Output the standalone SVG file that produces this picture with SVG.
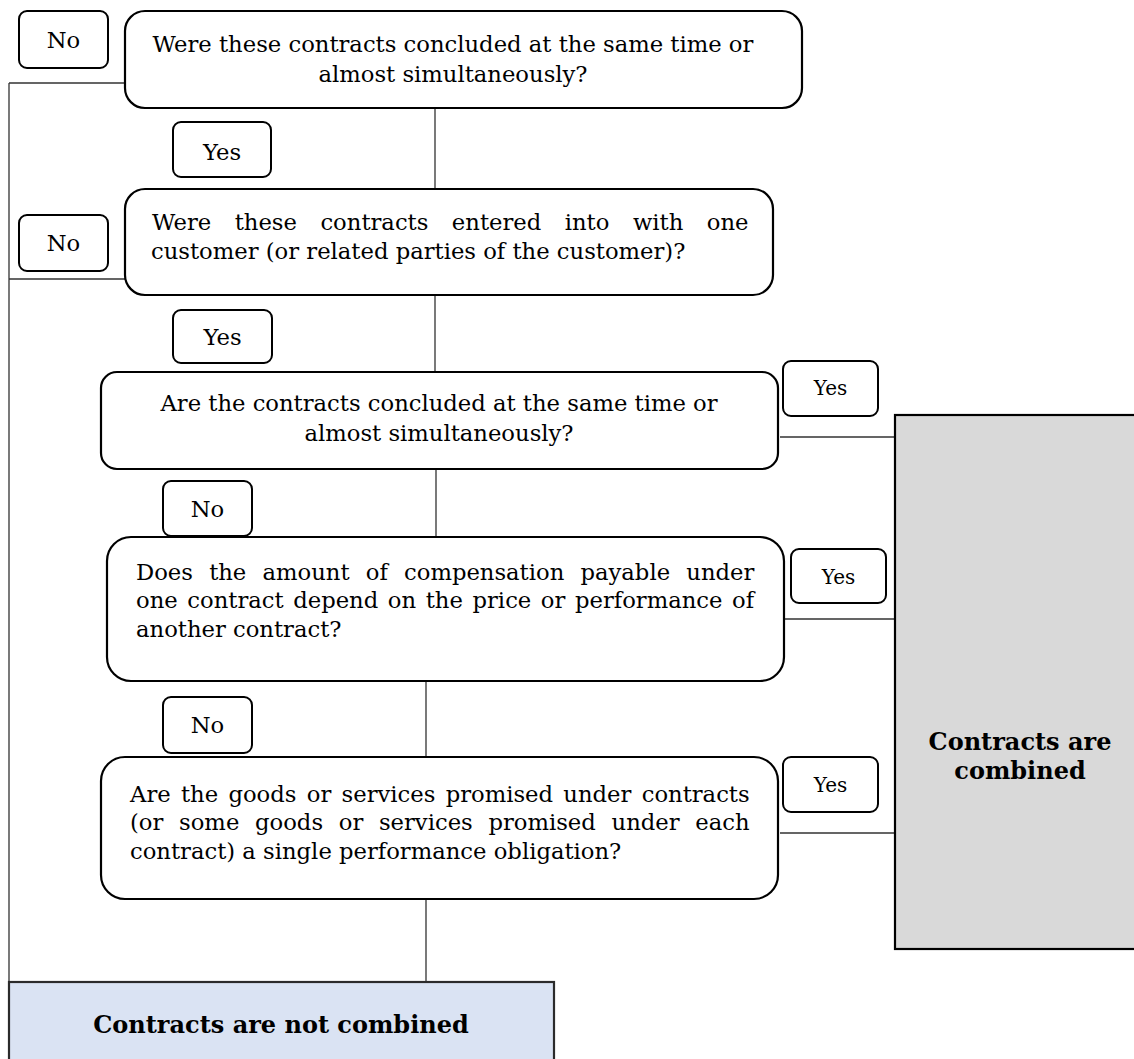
<svg xmlns="http://www.w3.org/2000/svg" width="1134" height="1059" viewBox="0 0 1134 1059">
<style>
.box{fill:#fff;stroke:#000;stroke-width:2.2}
.lbl{fill:#fff;stroke:#000;stroke-width:2}
.t{font-family:"DejaVu Serif","Liberation Serif",serif;font-size:22.7px;fill:#000}
.s{font-family:"DejaVu Serif","Liberation Serif",serif;font-size:20px;fill:#000}
.b{font-family:"DejaVu Serif","Liberation Serif",serif;font-size:24px;font-weight:bold;fill:#000}
.c{text-anchor:middle}
.ln{stroke:#333;stroke-width:1.3;fill:none}
</style>
<rect width="1134" height="1059" fill="#fff"/>
<g id="connectors">
<path class="ln" d="M9,83 H125 M9,279 H125 M9,83 V982"/>
<path class="ln" d="M435,108 V189 M435,295 V372 M436,469 V537 M426,681 V757 M426,899 V982"/>
<path class="ln" d="M780,437 H895 M784,619 H895 M780,833 H895"/>
</g>
<g id="q1">
<rect class="box" x="125" y="11" width="677" height="97" rx="20"/>
<text class="t c" x="453" y="52">Were these contracts concluded at the same time or</text>
<text class="t c" x="453" y="82">almost simultaneously?</text>
</g>
<g id="no1">
<rect class="lbl" x="19" y="11" width="89" height="57" rx="8"/>
<text class="t c" x="63.5" y="48">No</text>
</g>
<g id="yes1">
<rect class="lbl" x="173" y="122" width="98" height="55" rx="8"/>
<text class="t c" x="222" y="160">Yes</text>
</g>
<g id="q2">
<rect class="box" x="125" y="189" width="648" height="106" rx="20"/>
<text class="t" x="152" y="230" style="word-spacing:16.3px">Were these contracts entered into with one</text>
<text class="t" x="151" y="259">customer (or related parties of the customer)?</text>
</g>
<g id="no2">
<rect class="lbl" x="19" y="215" width="89" height="56" rx="8"/>
<text class="t c" x="63.5" y="251">No</text>
</g>
<g id="yes2">
<rect class="lbl" x="173" y="310" width="99" height="53" rx="8"/>
<text class="t c" x="222.5" y="345">Yes</text>
</g>
<g id="q3">
<rect class="box" x="101" y="372" width="677" height="97" rx="16"/>
<text class="t c" x="439" y="411">Are the contracts concluded at the same time or</text>
<text class="t c" x="439" y="441">almost simultaneously?</text>
</g>
<g id="yes3">
<rect class="lbl" x="783" y="361" width="95" height="55" rx="8"/>
<text class="s c" x="830.5" y="395">Yes</text>
</g>
<g id="no3">
<rect class="lbl" x="163" y="481" width="89" height="55" rx="8"/>
<text class="t c" x="207.5" y="517">No</text>
</g>
<g id="q4">
<rect class="box" x="107" y="537" width="677" height="144" rx="24"/>
<text class="t" x="136" y="580" style="word-spacing:9px">Does the amount of compensation payable under</text>
<text class="t" x="136" y="608" style="word-spacing:2.4px">one contract depend on the price or performance of</text>
<text class="t" x="136" y="637">another contract?</text>
</g>
<g id="yes4">
<rect class="lbl" x="791" y="549" width="95" height="54" rx="8"/>
<text class="s c" x="838.5" y="584">Yes</text>
</g>
<g id="no4">
<rect class="lbl" x="163" y="697" width="89" height="56" rx="8"/>
<text class="t c" x="207.5" y="733">No</text>
</g>
<g id="q5">
<rect class="box" x="101" y="757" width="677" height="142" rx="24"/>
<text class="t" x="130" y="802" style="word-spacing:3.1px">Are the goods or services promised under contracts</text>
<text class="t" x="130" y="830" style="word-spacing:8.5px">(or some goods or services promised under each</text>
<text class="t" x="130" y="859">contract) a single performance obligation?</text>
</g>
<g id="yes5">
<rect class="lbl" x="783" y="757" width="95" height="55" rx="8"/>
<text class="s c" x="830.5" y="792">Yes</text>
</g>
<g id="combined">
<rect x="895" y="415" width="260" height="534" fill="#d9d9d9" stroke="#000" stroke-width="2.2"/>
<text class="b c" x="1020" y="750">Contracts are</text>
<text class="b c" x="1020" y="779">combined</text>
</g>
<g id="notcombined">
<rect x="9" y="982" width="545" height="100" fill="#dae3f3" stroke="#2b2b2b" stroke-width="2.2"/>
<text class="b c" x="281" y="1033">Contracts are not combined</text>
</g>
</svg>
